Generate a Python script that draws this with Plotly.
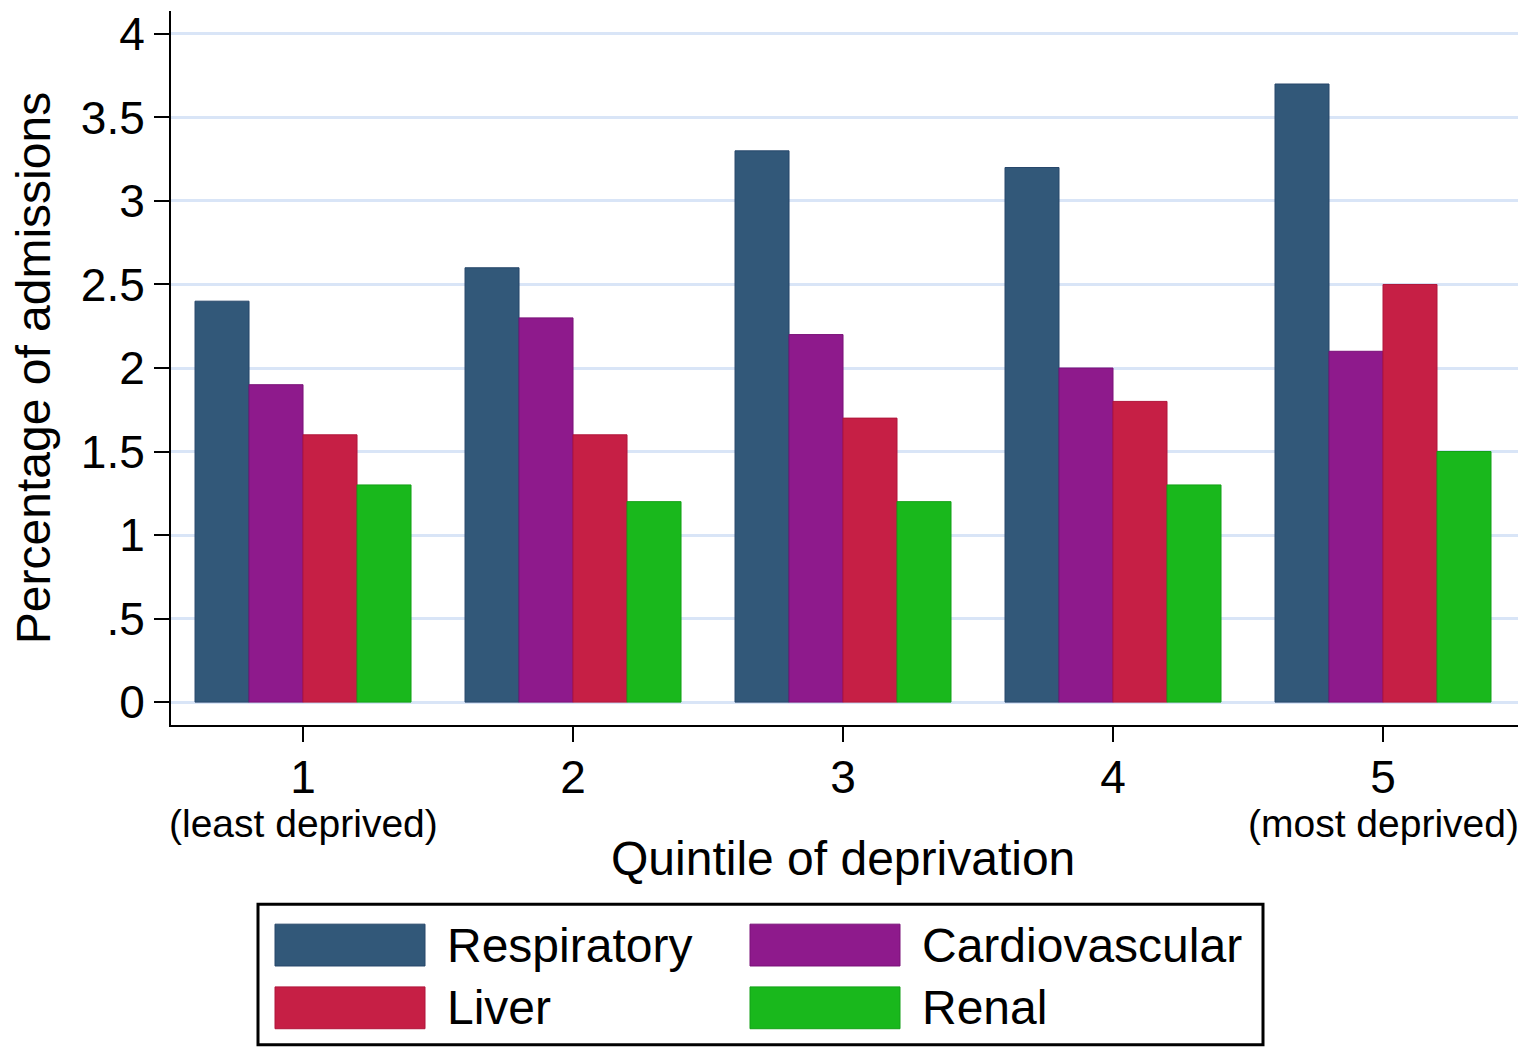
import plotly.graph_objects as go

quintiles = [1, 2, 3, 4, 5]
tick_labels = ["1", "2", "3", "4", "5"]
sub_labels = {1: "(least deprived)", 5: "(most deprived)"}
series_names = ["Respiratory", "Cardiovascular", "Liver", "Renal"]
respiratory = [2.4, 2.6, 3.3, 3.2, 3.7]
cardiovascular = [1.9, 2.3, 2.2, 2.0, 2.1]
liver = [1.6, 1.6, 1.7, 1.8, 2.5]
renal = [1.3, 1.2, 1.2, 1.3, 1.5]
colors = ["#325879", "#8E1A8C", "#C61F45", "#19B81C"]
outlines = ["#26466A", "#7A1178", "#B0153A", "#13A016"]
y_ticks = [0, 0.5, 1, 1.5, 2, 2.5, 3, 3.5, 4]
y_ticktext = ["0", ".5", "1", "1.5", "2", "2.5", "3", "3.5", "4"]

FONT = "Liberation Sans, Arial, sans-serif"
W, H = 1536, 1048
L, T = 171, 8
R = W - 1518
B = H - 725
pw, ph = W - L - R, H - T - B

fig = go.Figure()
for name, vals, c, oc in zip(series_names, [respiratory, cardiovascular, liver, renal], colors, outlines):
    fig.add_trace(go.Bar(x=quintiles, y=vals, name=name, marker=dict(color=c, line=dict(color=oc, width=1)),
                         showlegend=False))

def px2paper(px, py):
    return (px - L) / pw, (H - B - py) / ph

# custom legend
lx0, ly0 = px2paper(258, 905)
lx1, ly1 = px2paper(1263, 1046)
fig.add_shape(type="rect", xref="paper", yref="paper", x0=lx0, y0=ly0, x1=lx1, y1=ly1,
              line=dict(color="black", width=3), fillcolor="white", layer="below")
legend_pos = [(275, 925), (750, 925), (275, 988), (750, 988)]
for (sx, sy), name, c, oc in zip(legend_pos, series_names, colors, outlines):
    a0, b0 = px2paper(sx, sy)
    a1, b1 = px2paper(sx + 150, sy + 42)
    fig.add_shape(type="rect", xref="paper", yref="paper", x0=a0, y0=b0, x1=a1, y1=b1,
                  line=dict(color=oc, width=1), fillcolor=c)
    tx, ty = px2paper(sx + 170, sy + 21)
    fig.add_annotation(xref="paper", yref="paper", x=tx, y=ty, text=name, showarrow=False,
                       xanchor="left", yanchor="middle", font=dict(family=FONT, size=48, color="black"))

for q, lab in sub_labels.items():
    fig.add_annotation(xref="x", yref="paper", x=q, y=px2paper(0, 824)[1], text=lab, showarrow=False,
                       xanchor="center", yanchor="middle", font=dict(family=FONT, size=39, color="black"))

fig.add_annotation(xref="paper", yref="paper", x=px2paper(843, 0)[0], y=px2paper(0, 859)[1],
                   text="Quintile of deprivation", showarrow=False, xanchor="center", yanchor="middle",
                   font=dict(family=FONT, size=48, color="black"))

fig.update_layout(
    width=W, height=H, margin=dict(l=L, r=R, t=T, b=B),
    paper_bgcolor="white", plot_bgcolor="white",
    barmode="group", bargap=0.2, bargroupgap=0,
    font=dict(family=FONT, color="black"),
    xaxis=dict(range=[0.511, 5.5], tickvals=quintiles, ticktext=tick_labels, ticks="outside",
               ticklen=15, tickwidth=2, tickcolor="black", showline=True, linecolor="black", linewidth=2,
               showgrid=False, zeroline=False, ticklabelstandoff=-4,
               tickfont=dict(size=46, family=FONT, color="black")),
    yaxis=dict(range=[-0.137, 4.137], tickvals=y_ticks, ticktext=y_ticktext, ticks="outside",
               ticklen=15, tickwidth=2, tickcolor="black", showline=True, linecolor="black", linewidth=2,
               showgrid=True, gridcolor="#D9E5F7", gridwidth=3, zeroline=False,
               tickfont=dict(size=46, family=FONT, color="black"),
               title=dict(text="Percentage of admissions", font=dict(size=48, family=FONT, color="black"),
                          standoff=15)),
)

fig.write_html("out.html", post_script="document.body.style.margin='0';",
               config={"displayModeBar": False})
